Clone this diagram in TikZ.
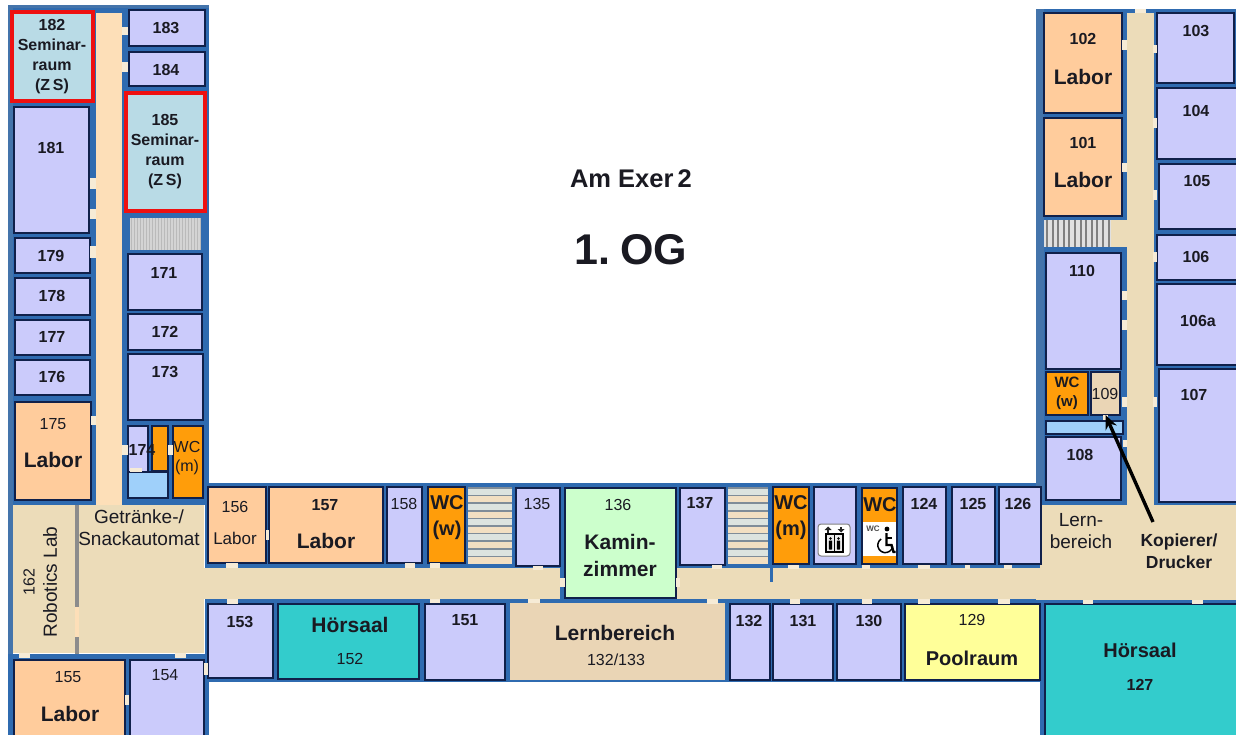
\documentclass[tikz,border=0pt]{standalone}
\usepackage{fontspec}
\setmainfont{Liberation Sans}
\usetikzlibrary{arrows.meta}
\definecolor{wall}{HTML}{2F6BB0}
\definecolor{walll}{HTML}{4474AB}
\definecolor{lav}{HTML}{CBCBFB}
\definecolor{peach}{HTML}{FFCC9C}
\definecolor{semi}{HTML}{B9DBE6}
\definecolor{wcor}{HTML}{FF9D0A}
\definecolor{teal2}{HTML}{33CCCC}
\definecolor{yel}{HTML}{FFFF99}
\definecolor{mint}{HTML}{CCFFCC}
\definecolor{beige}{HTML}{ECDCB9}
\definecolor{corr}{HTML}{FDDFB8}
\definecolor{lblue}{HTML}{9FD0FA}
\definecolor{tan2}{HTML}{EAD5B5}
\definecolor{ink}{HTML}{10204A}
\definecolor{txt}{HTML}{1A1A22}
\definecolor{door}{HTML}{F6EBD6}
\definecolor{rred}{HTML}{EE1010}
\definecolor{stairA}{HTML}{F2DFC2}
\definecolor{stairB}{HTML}{DCE3DF}
\definecolor{stairL}{HTML}{7F8C98}
\newcounter{labc}
\tikzset{
  x=1pt,y=-1pt,
  base/.style={anchor=north west,inner sep=0pt,outer sep=0pt},
  lavroom/.style={base,draw=ink,line width=1.3pt,fill=lav},
  labroom/.style={base,draw=ink,line width=1.3pt,fill=peach},
  wcroom/.style={base,draw=ink,line width=1.3pt,fill=wcor},
  tealroom/.style={base,draw=ink,line width=1.3pt,fill=teal2},
  yelroom/.style={base,draw=ink,line width=1.3pt,fill=yel},
  mintroom/.style={base,draw=ink,line width=1.3pt,fill=mint},
  tanroom/.style={base,draw=ink,line width=1.3pt,fill=tan2},
  tannob/.style={base,fill=tan2},
  lbroom/.style={base,draw=ink,line width=1.3pt,fill=lblue},
  semroom/.style={base,draw=rred,line width=3.5pt,fill=semi},
  lb/.style={inner sep=0pt,outer sep=0pt,text=txt,align=center},
  numb/.style={lb,font=\fontsize{16}{20}\selectfont\bfseries},
  numr/.style={lb,font=\fontsize{16}{20}\selectfont},
  bigb/.style={lb,font=\fontsize{21}{27}\selectfont\bfseries},
  wcb/.style={lb,font=\fontsize{20}{26}\selectfont\bfseries},
  wcs/.style={lb,font=\fontsize{16}{19}\selectfont},
  txtr/.style={lb,font=\fontsize{19}{22}\selectfont},
  txtb/.style={lb,font=\fontsize{17.5}{22}\selectfont\bfseries},
}
\newcommand{\roomrect}[6]{\node[#6,minimum width={(#4-#2)*1pt},minimum height={(#5-#3)*1pt}] (#1) at (#2,#3) {};}
\newcommand{\lab}[4]{\stepcounter{labc}\node[#1] (lab\arabic{labc}) at (#2,#3) {#4};}
\newcommand{\block}[5]{\fill[#5] (#1,#2) rectangle (#3,#4);}
\begin{document}
\begin{tikzpicture}
\useasboundingbox[fill=white] (0,0) rectangle (1236,735);
% ---- walls
\block{8}{5}{209}{505}{walll}
\block{13}{8}{209}{505}{wall}
\block{8}{505}{13}{735}{walll}
\block{205}{483}{1044}{604}{wall}
\block{205}{600}{1044}{682}{wall}
\block{8}{654}{209}{735}{wall}
\block{1036}{9}{1236}{505}{wall}
\block{1036}{9}{1044}{505}{walll}
\block{1036}{500}{1236}{604}{wall}
\block{1040}{600}{1236}{735}{wall}
% ---- corridors
\block{96}{13}{122}{505}{corr}
\block{13}{505}{204}{653}{beige}
\block{204}{568}{560}{599}{beige}
\block{677}{568}{1040}{599}{beige}
\block{1040}{505}{1236}{600}{beige}
\block{1127}{13}{1154}{505}{beige}
\block{1111}{220}{1127}{247}{beige}
\block{1036}{568}{1044}{600}{beige}
\block{770}{565}{773}{582}{wall}
% ---- robotics lab partition
\block{75}{505}{79}{654}{black!45}
\block{75}{607}{79}{637}{corr}
% ---- stairs
\fill[black!17] (130,218) rectangle (200,250);
\foreach \i in {0,...,23}{\pgfmathsetmacro{\sx}{131+3*\i}\draw[black!27,line width=.7pt] (\sx,218) -- (\sx,250);}
\fill[black!12] (1044,220) rectangle (1111,247);
\foreach \i in {0,...,11}{\pgfmathsetmacro{\sx}{1047+5.6*\i}\draw[black!50,line width=2pt] (\sx,220) -- (\sx,247);}
\foreach \sxa/\sxb/\sya in {468/512/488,728/768/488}{
  \foreach \i in {0,...,9}{
    \pgfmathsetmacro{\sy}{\sya+7.6*\i}
    \pgfmathsetmacro{\syb}{\sy+7.6}
    \pgfmathparse{int(mod(\i,2))}
    \ifnum\pgfmathresult=0 \fill[stairB] (\sxa,\sy) rectangle (\sxb,\syb);\else\fill[stairA] (\sxa,\sy) rectangle (\sxb,\syb);\fi
    \draw[stairL,line width=1.5pt] (\sxa,\sy) -- (\sxb,\sy);
  }
}
% ---- rooms, left wing
\roomrect{r182}{12}{12}{93}{101}{semroom}
\roomrect{r183}{129}{10}{205}{46}{lavroom}
\roomrect{r184}{129}{52}{205}{86}{lavroom}
\roomrect{r185}{126}{93}{205}{211}{semroom}
\roomrect{r181}{14}{107}{89}{233}{lavroom}
\roomrect{r179}{15}{238}{90}{273}{lavroom}
\roomrect{r178}{15}{278}{90}{315}{lavroom}
\roomrect{r177}{15}{320}{90}{355}{lavroom}
\roomrect{r176}{15}{360}{90}{395}{lavroom}
\roomrect{r175}{15}{402}{91}{500}{labroom}
\roomrect{r171}{128}{254}{202}{310}{lavroom}
\roomrect{r172}{128}{314}{202}{350}{lavroom}
\roomrect{r173}{128}{354}{203}{420}{lavroom}
\roomrect{r174b}{128}{472}{168}{498}{lbroom}
\roomrect{r174}{128}{426}{148}{472}{lavroom}
\roomrect{r174o}{152}{426}{168}{471}{wcroom}
\roomrect{wcm1}{173}{426}{203}{498}{wcroom}
% ---- rooms, top row
\roomrect{r156}{208}{487}{266}{563}{labroom}
\roomrect{r157}{269}{487}{383}{563}{labroom}
\roomrect{r158}{387}{487}{422}{563}{lavroom}
\roomrect{wcw1}{428}{487}{465}{563}{wcroom}
\roomrect{r135}{516}{488}{560}{566}{lavroom}
\roomrect{r136}{565}{488}{676}{598}{mintroom}
\roomrect{r137}{680}{488}{725}{565}{lavroom}
\roomrect{wcm2}{773}{487}{809}{564}{wcroom}
\roomrect{rlift}{814}{487}{856}{564}{lavroom}
\roomrect{wchc}{862}{488}{897}{564}{wcroom}
\fill[white] (863,522) rectangle (896,556);
\roomrect{r124}{903}{487}{946}{564}{lavroom}
\roomrect{r125}{952}{487}{995}{564}{lavroom}
\roomrect{r126}{999}{487}{1041}{564}{lavroom}
% ---- rooms, bottom row
\roomrect{r153}{208}{604}{273}{678}{lavroom}
\roomrect{r152}{278}{604}{419}{679}{tealroom}
\roomrect{r151}{425}{604}{505}{680}{lavroom}
\roomrect{r133}{510}{603}{725}{680}{tannob}
\roomrect{r132}{730}{604}{770}{680}{lavroom}
\roomrect{r131}{773}{604}{833}{680}{lavroom}
\roomrect{r130}{837}{604}{901}{680}{lavroom}
\roomrect{r129}{905}{604}{1040}{680}{yelroom}
\roomrect{r127}{1045}{604}{1240}{740}{tealroom}
\roomrect{r155}{14}{660}{125}{740}{labroom}
\roomrect{r154}{130}{660}{204}{740}{lavroom}
% ---- rooms, right wing
\roomrect{r102}{1044}{13}{1122}{113}{labroom}
\roomrect{r101}{1044}{118}{1122}{216}{labroom}
\roomrect{r110}{1046}{253}{1121}{369}{lavroom}
\roomrect{wcw2}{1046}{372}{1088}{415}{wcroom}
\roomrect{r109}{1091}{372}{1120}{415}{tanroom}
\roomrect{r109b}{1046}{421}{1123}{434}{lbroom}
\roomrect{r108}{1046}{437}{1121}{500}{lavroom}
\roomrect{r103}{1157}{13}{1234}{83}{lavroom}
\roomrect{r104}{1157}{88}{1240}{159}{lavroom}
\roomrect{r105}{1159}{164}{1240}{229}{lavroom}
\roomrect{r106}{1157}{235}{1240}{280}{lavroom}
\roomrect{r106a}{1157}{284}{1240}{365}{lavroom}
\roomrect{r107}{1159}{369}{1240}{502}{lavroom}
% ---- doors
\foreach \a/\b/\c/\d in {90/178/96/189,90/209/96/219,91/416/96/425,122/27/128/35,122/62/128/72,122/445/128/455,
  168/445/173/455,130/468/142/472,90/246/96/258,
  19/653/30/658,175/653/186/658,204/663/208/675,125/695/129/705,
  226/563/238/568,227/599/238/604,405/563/415/568,430/563/440/568,533/566/543/570,430/599/440/603,528/599/540/603,
  560/578/565/587,676/578/680/587,712/565/722/569,788/565/799/569,862/565/870/569,918/565/930/569,965/565/970/569,1004/565/1012/569,
  707/599/718/604,790/599/800/604,862/599/872/604,918/599/930/604,998/599/1010/604,1083/600/1093/604,1192/600/1203/604,
  1122/40/1127/50,1122/163/1127/172,1122/291/1127/300,1122/320/1127/330,1122/397/1127/407,1123/440/1127/447,
  1153/45/1157/53,1153/118/1157/128,1153/190/1157/200,1153/252/1157/262,1153/397/1157/407,
  1135/9/1146/13,1103/415/1108/420,266/530/269/540}{\fill[door] (\a,\b) rectangle (\c,\d);}
% ---- lift icon
\roomrect{lifticon}{818}{524}{850}{556}{base,draw=black!50,line width=1pt,fill=white,rounded corners=3pt}
\draw[black,line width=1.8pt,fill=black!8] (826,534) rectangle (843,552);
\draw[black,line width=.8pt] (834.5,534) -- (834.5,552);
\foreach \px in {830.5,838.5}{\fill[black] (\px,538.5) circle (1.4); \fill[black,rounded corners=.6pt] (\px-1.7,540.5) rectangle (\px+1.7,549.5);}
\fill[black!85] (828,526.5) -- (831.5,530) -- (824.5,530) -- cycle;
\fill[black!85] (827,530) rectangle (829,532.5);
\fill[black!85] (841,532.5) -- (844.5,529) -- (837.5,529) -- cycle;
\fill[black!85] (840,526.5) rectangle (842,529);
% ---- wheelchair icon
\lab{lb,font=\fontsize{8}{9}\selectfont\bfseries,text=black!70}{873}{529}{WC}
\fill[black] (887,529) circle (2.4);
\draw[black,line width=2.4pt] (886.5,533) -- (886.5,545) -- (891.5,545) -- (893.5,552) -- (895.5,552);
\draw[black,line width=1.6pt] (886.5,538) -- (892,538);
\draw[black,line width=1.5pt] (881,539) arc[start angle=235,delta angle=-225,radius=7.5];
% ---- labels, left wing
\lab{numb}{52}{57}{182\\Seminar-\\raum\\(Z\,S)}
\lab{numb}{165}{152}{185\\Seminar-\\raum\\(Z\,S)}
\lab{numb}{166}{28}{183}
\lab{numb}{166}{70}{184}
\lab{numb}{51}{148}{181}
\lab{numb}{51}{256}{179}
\lab{numb}{52}{296}{178}
\lab{numb}{52}{337}{177}
\lab{numb}{52}{377}{176}
\lab{numr}{53}{424}{175}
\lab{bigb}{53}{460}{Labor}
\lab{numb}{164}{273}{171}
\lab{numb}{165}{332}{172}
\lab{numb}{165}{372}{173}
\lab{numb}{142}{450}{174}
\lab{wcs}{187}{458}{WC\\(m)}
% ---- labels, foyer
\lab{numr,rotate=90}{29}{582}{162}
\lab{txtr,rotate=90}{50}{582}{Robotics Lab}
\lab{txtr}{139}{528}{Getränke-/\\Snackautomat}
% ---- labels, top row
\lab{numr}{235}{507}{156}
\lab{lb,font=\fontsize{17}{20}\selectfont}{235}{538}{Labor}
\lab{numb}{325}{505}{157}
\lab{bigb}{326}{541}{Labor}
\lab{numr}{404}{504}{158}
\lab{wcb}{447}{518}{WC\\(w)}
\lab{numr}{537}{504}{135}
\lab{numr}{618}{505}{136}
\lab{bigb}{620}{555}{Kamin-\\zimmer}
\lab{numb}{700}{503}{137}
\lab{wcb}{791}{518}{WC\\(m)}
\lab{wcb}{880}{505}{WC}
\lab{numb}{924}{504}{124}
\lab{numb}{973}{504}{125}
\lab{numb}{1018}{504}{126}
% ---- labels, bottom row
\lab{numb}{240}{622}{153}
\lab{bigb}{350}{625}{Hörsaal}
\lab{numr}{350}{659}{152}
\lab{numb}{465}{620}{151}
\lab{bigb}{615}{633}{Lernbereich}
\lab{numr}{616}{660}{132/133}
\lab{numb}{749}{621}{132}
\lab{numb}{803}{621}{131}
\lab{numb}{869}{621}{130}
\lab{numr}{972}{620}{129}
\lab{wcb}{972}{658}{Poolraum}
\lab{wcb}{1140}{650}{Hörsaal}
\lab{numb}{1140}{685}{127}
\lab{numr}{68}{677}{155}
\lab{bigb}{70}{714}{Labor}
\lab{numr}{165}{675}{154}
% ---- labels, right wing
\lab{numb}{1083}{39}{102}
\lab{bigb}{1083}{77}{Labor}
\lab{numb}{1083}{143}{101}
\lab{bigb}{1083}{180}{Labor}
\lab{numb}{1196}{31}{103}
\lab{numb}{1196}{111}{104}
\lab{numb}{1197}{181}{105}
\lab{numb}{1196}{257}{106}
\lab{numb}{1198}{321}{106a}
\lab{numb}{1194}{395}{107}
\lab{numb}{1082}{271}{110}
\lab{numb}{1080}{455}{108}
\lab{lb,font=\fontsize{15}{19}\selectfont\bfseries}{1067}{393}{WC\\(w)}
\lab{numr}{1105}{394}{109}
\lab{txtr}{1081}{531}{Lern-\\bereich}
\node[txtb] (kop) at (1179,551) {Kopierer/\\Drucker};
\coordinate (kopend) at (1153,522);
\draw[-{Stealth[length=14pt,width=12pt]},black,line width=3.4pt] (kopend) -- (r109.south);
% ---- title
\node[lb,font=\fontsize{25.5}{28}\selectfont\bfseries] (title) at (631,179) {Am Exer\,2};
\node[lb,font=\fontsize{43}{48}\selectfont\bfseries] (floor) at (631,250) {1.\hspace{0.22em}OG};
\end{tikzpicture}
\end{document}
